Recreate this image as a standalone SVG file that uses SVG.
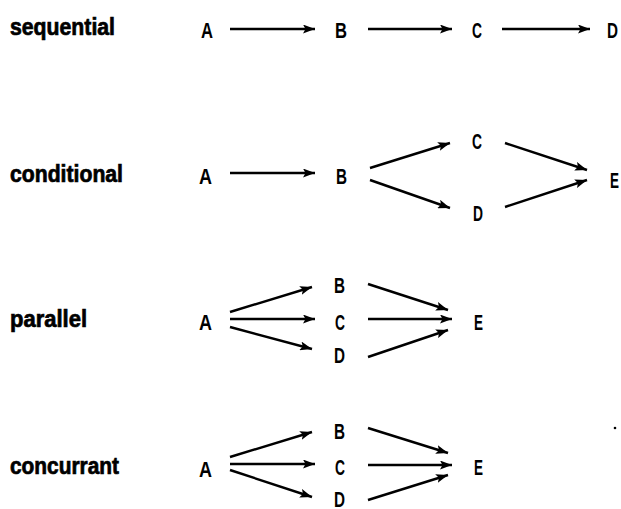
<svg xmlns="http://www.w3.org/2000/svg" width="621" height="509" viewBox="0 0 621 509">
<defs>
<marker id="ah" markerUnits="userSpaceOnUse" markerWidth="13" markerHeight="9" refX="12" refY="4.5" orient="auto">
<path d="M0,0 L12,4.5 L0,9 L2.5,4.5 z" fill="#000"/>
</marker>
<style>
.lbl{font-family:"Liberation Sans",Arial,sans-serif;font-weight:bold;font-size:23px;fill:#000;stroke:#000;stroke-width:0.7}
.n{font-family:"Liberation Sans",Arial,sans-serif;font-weight:bold;font-size:22px;fill:#000;text-anchor:start}
.c line{stroke:#000;stroke-width:2.4;marker-end:url(#ah)}
</style>
</defs>
<rect width="621" height="509" fill="#fff"/>
<g id="label-sequential"><text class="lbl" x="10" y="35" textLength="105" lengthAdjust="spacingAndGlyphs">sequential</text></g>
<g id="label-conditional"><text class="lbl" x="10" y="182" textLength="113" lengthAdjust="spacingAndGlyphs">conditional</text></g>
<g id="label-parallel"><text class="lbl" x="10" y="327" textLength="77" lengthAdjust="spacingAndGlyphs">parallel</text></g>
<g id="label-concurrant"><text class="lbl" x="10" y="474" textLength="109" lengthAdjust="spacingAndGlyphs">concurrant</text></g>
<g id="seq-A"><text class="n" x="201" y="38" textLength="12" lengthAdjust="spacingAndGlyphs">A</text></g>
<g id="seq-B"><text class="n" x="335" y="38" textLength="12" lengthAdjust="spacingAndGlyphs">B</text></g>
<g id="seq-C"><text class="n" x="472" y="38" textLength="10" lengthAdjust="spacingAndGlyphs">C</text></g>
<g id="seq-D"><text class="n" x="607" y="38" textLength="11" lengthAdjust="spacingAndGlyphs">D</text></g>
<g id="cond-A"><text class="n" x="199" y="184" textLength="13" lengthAdjust="spacingAndGlyphs">A</text></g>
<g id="cond-B"><text class="n" x="336" y="184" textLength="11" lengthAdjust="spacingAndGlyphs">B</text></g>
<g id="cond-C"><text class="n" x="472" y="149" textLength="10" lengthAdjust="spacingAndGlyphs">C</text></g>
<g id="cond-D"><text class="n" x="473" y="221" textLength="10" lengthAdjust="spacingAndGlyphs">D</text></g>
<g id="cond-E"><text class="n" x="610" y="188" textLength="9" lengthAdjust="spacingAndGlyphs">E</text></g>
<g id="par-A"><text class="n" x="199" y="330" textLength="13" lengthAdjust="spacingAndGlyphs">A</text></g>
<g id="par-B"><text class="n" x="334" y="293" textLength="11" lengthAdjust="spacingAndGlyphs">B</text></g>
<g id="par-C"><text class="n" x="335" y="330" textLength="10" lengthAdjust="spacingAndGlyphs">C</text></g>
<g id="par-D"><text class="n" x="334" y="363" textLength="11" lengthAdjust="spacingAndGlyphs">D</text></g>
<g id="par-E"><text class="n" x="474" y="330" textLength="9" lengthAdjust="spacingAndGlyphs">E</text></g>
<g id="con-A"><text class="n" x="199" y="477" textLength="13" lengthAdjust="spacingAndGlyphs">A</text></g>
<g id="con-B"><text class="n" x="334" y="439" textLength="11" lengthAdjust="spacingAndGlyphs">B</text></g>
<g id="con-C"><text class="n" x="335" y="475" textLength="10" lengthAdjust="spacingAndGlyphs">C</text></g>
<g id="con-D"><text class="n" x="334" y="507" textLength="11" lengthAdjust="spacingAndGlyphs">D</text></g>
<g id="con-E"><text class="n" x="474" y="475" textLength="9" lengthAdjust="spacingAndGlyphs">E</text></g>
<circle cx="615" cy="428" r="1.3" fill="#000"/>
<g id="connectors" class="c">
<line x1="230" y1="29" x2="315" y2="29"/>
<line x1="368" y1="29" x2="452" y2="29"/>
<line x1="502" y1="29" x2="590" y2="29"/>
<line x1="230" y1="173" x2="315" y2="173"/>
<line x1="370" y1="168" x2="450" y2="143"/>
<line x1="370" y1="180" x2="450" y2="208"/>
<line x1="505" y1="143" x2="587" y2="170"/>
<line x1="505" y1="207" x2="587" y2="180"/>
<line x1="230" y1="312" x2="312" y2="287"/>
<line x1="230" y1="319" x2="315" y2="319"/>
<line x1="230" y1="327" x2="312" y2="349"/>
<line x1="368" y1="284" x2="448" y2="310"/>
<line x1="368" y1="319" x2="452" y2="319"/>
<line x1="368" y1="357" x2="448" y2="330"/>
<line x1="230" y1="457" x2="312" y2="432"/>
<line x1="230" y1="464" x2="315" y2="464"/>
<line x1="230" y1="470" x2="312" y2="497"/>
<line x1="368" y1="428" x2="448" y2="453"/>
<line x1="368" y1="465" x2="452" y2="465"/>
<line x1="368" y1="500" x2="448" y2="475"/>
</g>
</svg>
